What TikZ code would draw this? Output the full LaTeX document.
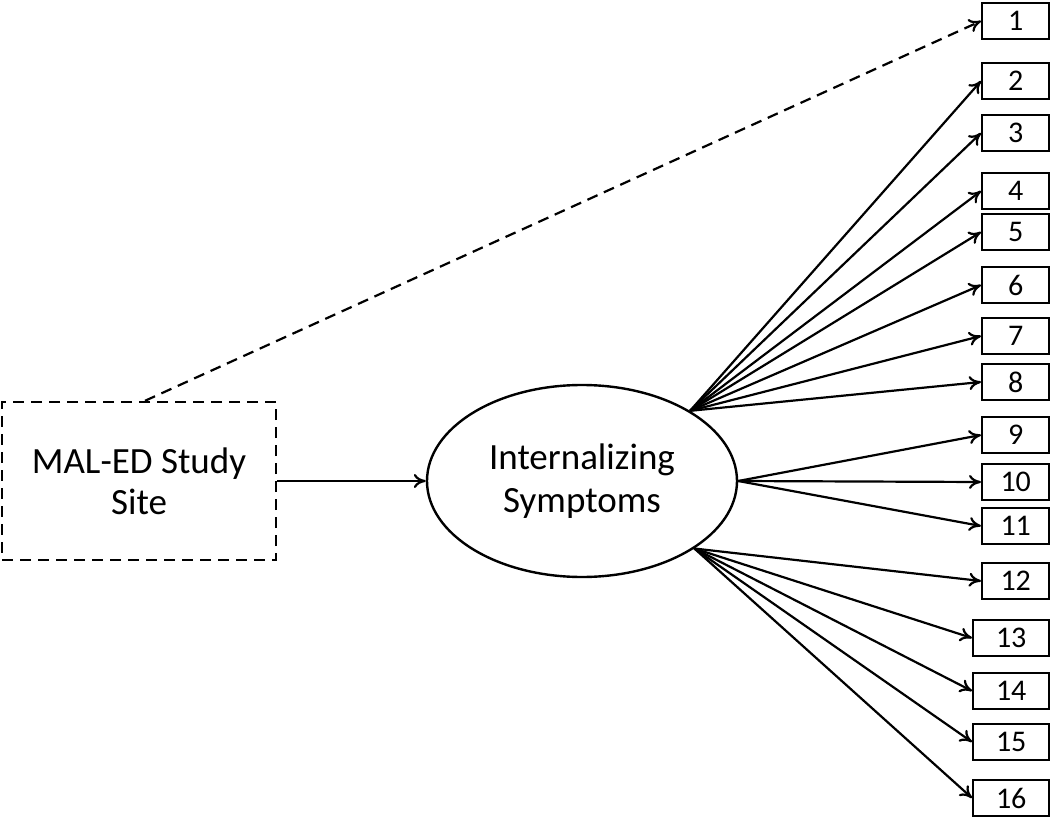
\documentclass[tikz,border=0pt]{standalone}
\usepackage{fontspec}
\setmainfont{Carlito}
\usepackage{tikz}
\usetikzlibrary{shapes.geometric, arrows.meta, positioning}

\tikzset{
    item/.style={draw, line width=2.4pt, minimum height=36pt, inner sep=0pt, font=\fontsize{30}{32}\selectfont},
    path/.style={line width=2.2pt, -{To[length=12pt,width=14pt]}},
}

\begin{document}
\begin{tikzpicture}[x=1pt,y=-1pt]
        \useasboundingbox (0,0) rectangle (1050,821);
        \node[draw, dash pattern=on 11pt off 7pt, line width=2.4pt, minimum width=274pt, minimum height=158pt, align=center, font=\fontsize{37}{41}\selectfont] (site) at (139,481) {MAL-ED Study\\Site};
        \node[draw, ellipse, line width=2.4pt, minimum width=310pt, minimum height=192pt, align=center, font=\fontsize{37}{43}\selectfont] (symp) at (582,481) {Internalizing\\Symptoms};
        % indicator boxes
        \foreach \i/\y in {1/21,2/81,3/133,4/191,5/232,6/285,7/336,8/382,9/435,10/482,11/526,12/581}
            \node[item, minimum width=67pt, anchor=west] (i\i) at (981,\y) {\i};
        \foreach \i/\y in {13/638,14/691,15/742,16/798}
            \node[item, minimum width=76pt, anchor=west] (i\i) at (972,\y) {\i};
        \draw[path] (site.east) -- (symp.west);
        \draw[line width=2.2pt, dash pattern=on 11pt off 7pt, -{To[length=12pt,width=14pt]}] ([xshift=6pt]site.north) -- (i1.west);
        \foreach \i in {2,...,8}
            \draw[path] (symp.33) -- (i\i.west);
        \foreach \i in {9,10,11}
            \draw[path] (symp.east) -- (i\i.west);
        \foreach \i in {12,...,16}
            \draw[path] (symp.-31) -- (i\i.west);
\end{tikzpicture}
\end{document}
